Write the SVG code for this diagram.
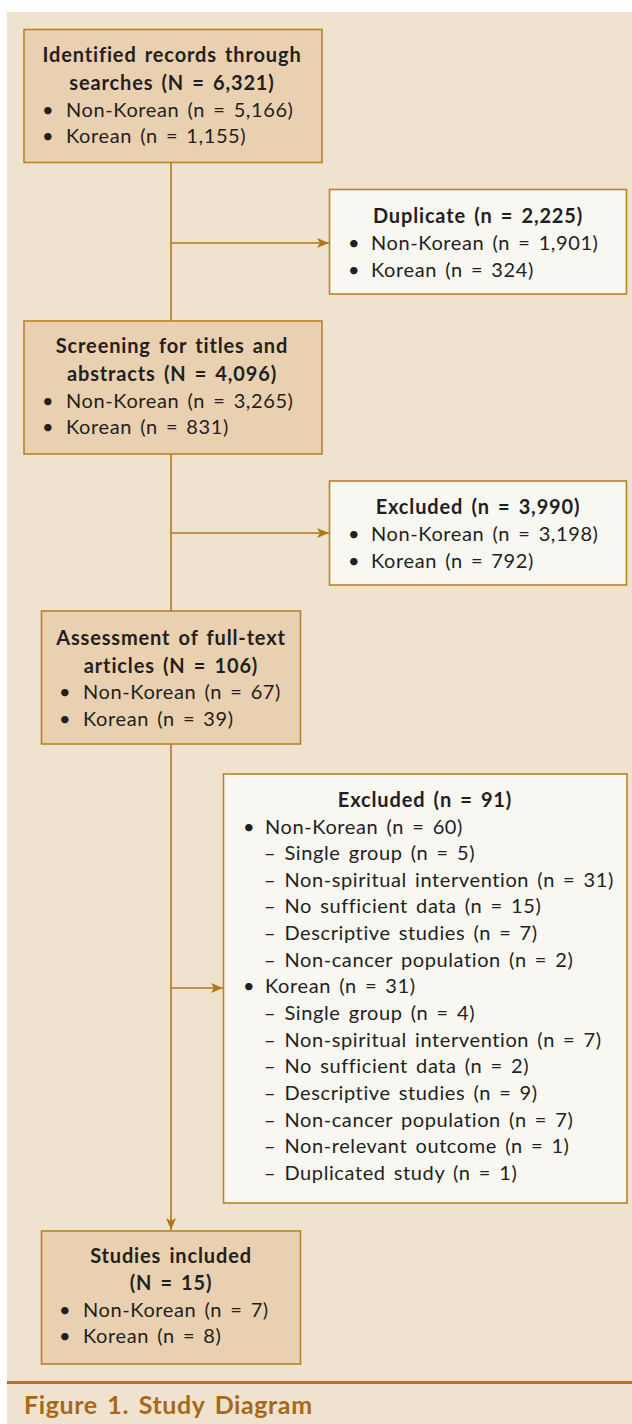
<svg xmlns="http://www.w3.org/2000/svg" width="632" height="1424" viewBox="0 0 632 1424">
<defs>
<style>
.bg{fill:#efe3cf}
.tan{fill:#e9d0b0;stroke:#b98228;stroke-width:1.6}
.wht{fill:#f9f7f2;stroke:#b98228;stroke-width:1.6}
.t{font-family:Lato,"Open Sans","Liberation Sans",sans-serif;font-size:20px;fill:#231f20;letter-spacing:0.6px;word-spacing:2.5px}
.b{font-weight:bold;letter-spacing:0.85px}
.c{text-anchor:middle}
.ln{stroke:#b07818;stroke-width:1.6;fill:none}
.cap{font-family:Lato,"Open Sans","Liberation Sans",sans-serif;font-size:25px;font-weight:bold;fill:#a8681a;letter-spacing:0.6px;word-spacing:3px}
</style>
<marker id="ah" viewBox="0 0 12 10" refX="12" refY="5" markerWidth="12" markerHeight="10" markerUnits="userSpaceOnUse" orient="auto">
<path d="M0,0 L12,5 L0,10 L3,5 Z" fill="#b07818"/>
</marker>
</defs>
<rect class="bg" x="7" y="12" width="625" height="1412"/>
<line x1="7" y1="1382.5" x2="632" y2="1382.5" stroke="#b07818" stroke-width="3"/>
<text class="cap" x="24" y="1414">Figure 1. Study Diagram</text>

<g id="connectors">
<line class="ln" x1="171" y1="163" x2="171" y2="321"/>
<line class="ln" x1="171" y1="243" x2="329" y2="243" marker-end="url(#ah)"/>
<line class="ln" x1="171" y1="454" x2="171" y2="611"/>
<line class="ln" x1="171" y1="533" x2="329" y2="533" marker-end="url(#ah)"/>
<line class="ln" x1="171" y1="744" x2="171" y2="1230" marker-end="url(#ah)"/>
<line class="ln" x1="171" y1="988" x2="223" y2="988" marker-end="url(#ah)"/>
</g>

<g id="n1">
<rect class="tan" x="24" y="29.5" width="298" height="133"/>
<text class="t b c" x="172" y="62">Identified records through</text>
<text class="t b c" x="172" y="90">searches (N = 6,321)</text>
<text class="t" x="42" y="117">•</text><text class="t" x="66" y="117">Non-Korean (n = 5,166)</text>
<text class="t" x="42" y="143">•</text><text class="t" x="66" y="143">Korean (n = 1,155)</text>
</g>

<g id="n2">
<rect class="wht" x="329.5" y="189.5" width="297" height="104.5"/>
<text class="t b c" x="478" y="223">Duplicate (n = 2,225)</text>
<text class="t" x="348" y="250">•</text><text class="t" x="371" y="250">Non-Korean (n = 1,901)</text>
<text class="t" x="348" y="277">•</text><text class="t" x="371" y="277">Korean (n = 324)</text>
</g>

<g id="n3">
<rect class="tan" x="24" y="321" width="298" height="133"/>
<text class="t b c" x="172" y="353">Screening for titles and</text>
<text class="t b c" x="172" y="381">abstracts (N = 4,096)</text>
<text class="t" x="42" y="408">•</text><text class="t" x="66" y="408">Non-Korean (n = 3,265)</text>
<text class="t" x="42" y="434">•</text><text class="t" x="66" y="434">Korean (n = 831)</text>
</g>

<g id="n4">
<rect class="wht" x="329.5" y="481" width="297" height="104"/>
<text class="t b c" x="478" y="514">Excluded (n = 3,990)</text>
<text class="t" x="348" y="541">•</text><text class="t" x="371" y="541">Non-Korean (n = 3,198)</text>
<text class="t" x="348" y="568">•</text><text class="t" x="371" y="568">Korean (n = 792)</text>
</g>

<g id="n5">
<rect class="tan" x="41.5" y="611" width="259" height="133"/>
<text class="t b c" x="171" y="645">Assessment of full-text</text>
<text class="t b c" x="171" y="673">articles (N = 106)</text>
<text class="t" x="59" y="699">•</text><text class="t" x="83" y="699">Non-Korean (n = 67)</text>
<text class="t" x="59" y="726">•</text><text class="t" x="83" y="726">Korean (n = 39)</text>
</g>

<g id="n6">
<rect class="wht" x="223.5" y="774" width="403.5" height="429"/>
<text class="t b c" x="425" y="807">Excluded (n = 91)</text>
<text class="t" x="243" y="834">•</text><text class="t" x="265" y="834">Non-Korean (n = 60)</text>
<text class="t" x="264" y="860">– Single group (n = 5)</text>
<text class="t" x="264" y="887">– Non-spiritual intervention (n = 31)</text>
<text class="t" x="264" y="913">– No sufficient data (n = 15)</text>
<text class="t" x="264" y="940">– Descriptive studies (n = 7)</text>
<text class="t" x="264" y="967">– Non-cancer population (n = 2)</text>
<text class="t" x="243" y="993">•</text><text class="t" x="265" y="993">Korean (n = 31)</text>
<text class="t" x="264" y="1020">– Single group (n = 4)</text>
<text class="t" x="264" y="1047">– Non-spiritual intervention (n = 7)</text>
<text class="t" x="264" y="1073">– No sufficient data (n = 2)</text>
<text class="t" x="264" y="1100">– Descriptive studies (n = 9)</text>
<text class="t" x="264" y="1127">– Non-cancer population (n = 7)</text>
<text class="t" x="264" y="1153">– Non-relevant outcome (n = 1)</text>
<text class="t" x="264" y="1180">– Duplicated study (n = 1)</text>
</g>

<g id="n7">
<rect class="tan" x="41.5" y="1231" width="259" height="133"/>
<text class="t b c" x="171" y="1263">Studies included</text>
<text class="t b c" x="171" y="1290">(N = 15)</text>
<text class="t" x="59" y="1317">•</text><text class="t" x="83" y="1317">Non-Korean (n = 7)</text>
<text class="t" x="59" y="1343">•</text><text class="t" x="83" y="1343">Korean (n = 8)</text>
</g>
</svg>
